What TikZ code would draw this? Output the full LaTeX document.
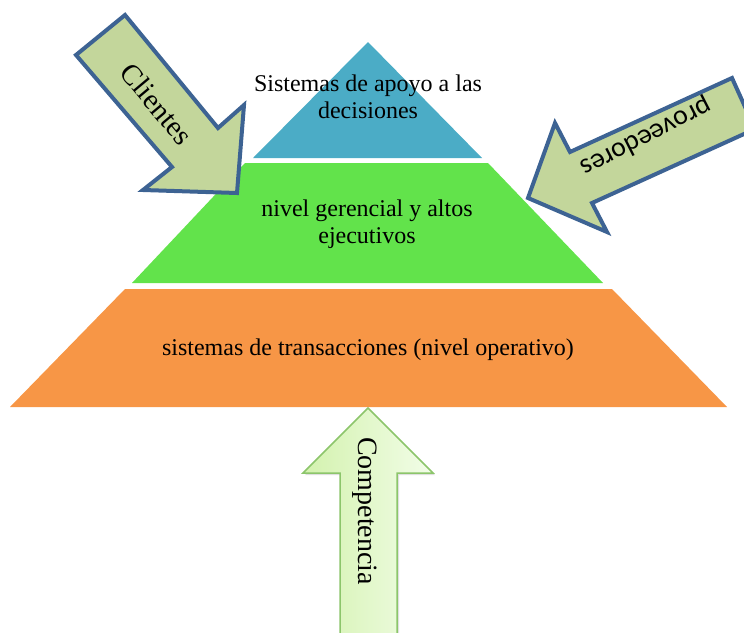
\documentclass[tikz,border=0pt]{standalone}
\usepackage{fontspec}
\setmainfont{Liberation Serif}
\newfontfamily\calibrifont{Carlito}
\usetikzlibrary{shadows}
\definecolor{lvlblue}{HTML}{4BACC6}
\definecolor{lvlgreen}{HTML}{62E34B}
\definecolor{lvlorange}{HTML}{F79646}
\definecolor{arrfill}{HTML}{C3D69B}
\definecolor{arrline}{HTML}{3D6393}
\definecolor{compline}{HTML}{8CC56B}
\definecolor{compleft}{HTML}{D3F2AE}
\definecolor{compright}{HTML}{F2FDE8}
\begin{document}
\begin{tikzpicture}[x=1pt,y=-1pt,
  lvltext/.style={align=center,font=\fontsize{24}{26.5}\selectfont,inner sep=0pt},
  bigarrow/.style={fill=arrfill,draw=arrline,line width=4pt,line join=miter},
  arrtext/.style={font=\fontsize{29}{31}\selectfont,inner sep=0pt}]
\useasboundingbox (0,0) rectangle (744,632);
\clip (0,0) rectangle (744,632);
% pyramid levels
\fill[lvlblue] (368,42) -- (482,158) -- (253,158) -- cycle;
\fill[lvlgreen] (245,163) -- (488,163) -- (603,283) -- (132,283) -- cycle;
\fill[lvlorange] (125,289) -- (612,289) -- (727,407) -- (10,407) -- cycle;
\node[lvltext] (top) at (368,97) {Sistemas de apoyo a las\\decisiones};
\node[lvltext] (mid) at (367,224) {nivel gerencial y altos\\ejecutivos};
\node[lvltext] (bot) at (368,350) {sistemas de transacciones (nivel operativo)};
% Clientes arrow
\draw[bigarrow] (125,15) -- (218,128) -- (244,105) -- (237,193) -- (143,190) -- (172,167) -- (76,55) -- cycle;
\node[arrtext,rotate=-50] (cli) at (157,104) {Clientes};
% Proveedores arrow
\draw[bigarrow] (732,78) -- (755,129) -- (592,203) -- (607,232) -- (528,198) -- (555,123) -- (570,152) -- cycle;
\node[arrtext,font=\calibrifont\fontsize{28}{30}\selectfont,rotate=207] (prov) at (646,137) {proveedores};
% Competencia arrow
\draw[draw=compline,line width=1.5pt,left color=compleft,right color=compright,
      drop shadow={opacity=0.25,shadow xshift=2pt,shadow yshift=-2pt}]
  (368,408) -- (433,473) -- (397,473) -- (397,645) -- (340,645) -- (340,473) -- (303,473) -- cycle;
\node[arrtext,font=\fontsize{28}{30}\selectfont,rotate=-90] (comp) at (365,511) {Competencia};
\end{tikzpicture}
\end{document}
